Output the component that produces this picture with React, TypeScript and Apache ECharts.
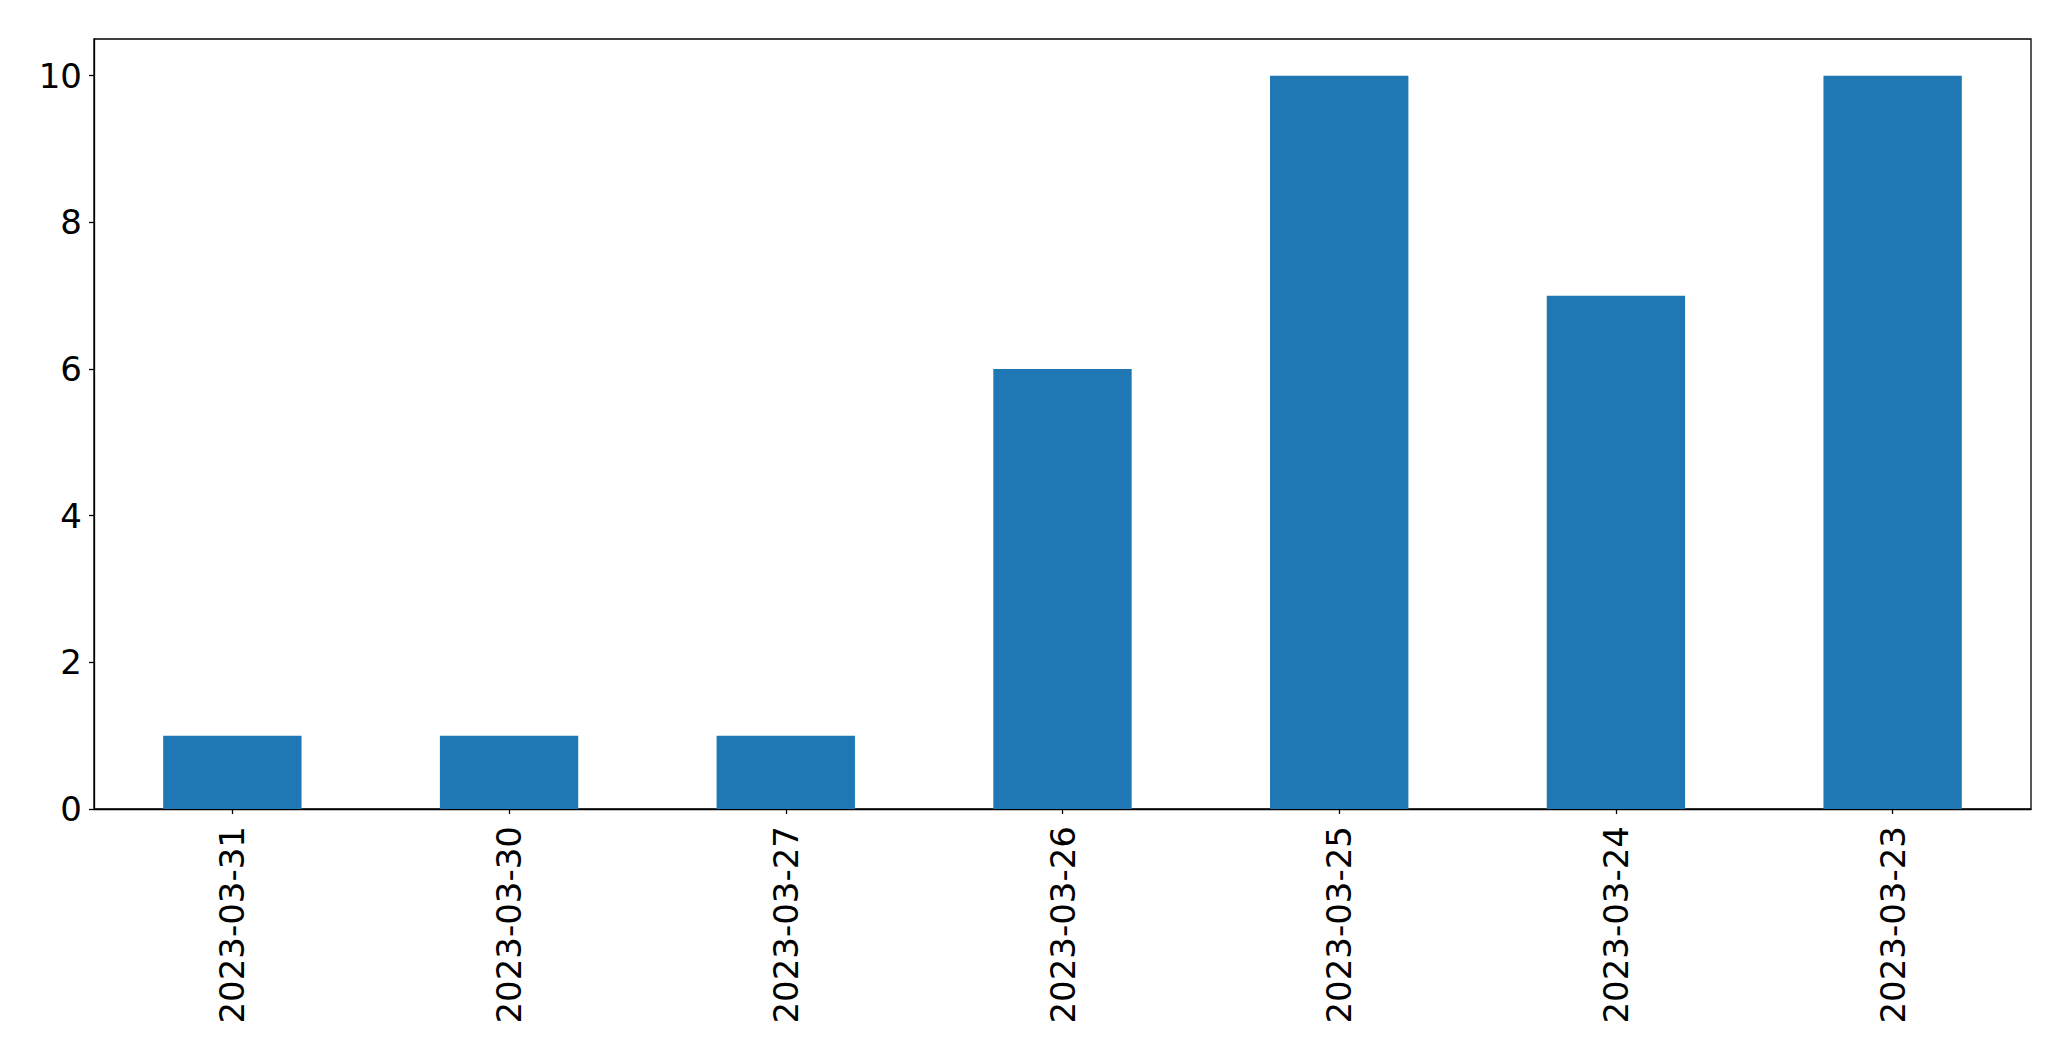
import React, { useEffect, useRef } from "react";
import * as echarts from "echarts";

const categories = ["2023-03-31", "2023-03-30", "2023-03-27", "2023-03-26", "2023-03-25", "2023-03-24", "2023-03-23"];
const values = [1, 1, 1, 6, 10, 7, 10];
const yTicks = [0, 2, 4, 6, 8, 10];

export default function App() {
  const ref = useRef<HTMLDivElement>(null);
  useEffect(() => {
    if (!ref.current) return;
    const chart = echarts.init(ref.current, null, { renderer: "svg" });
    const font = "DejaVu Sans";
    chart.setOption({
      animation: false,
      backgroundColor: "#ffffff",
      grid: {
        left: 94,
        top: 39,
        width: 1937,
        height: 770,
        show: true,
        borderColor: "#000",
        borderWidth: 1.3,
        backgroundColor: "transparent",
      },
      xAxis: {
        type: "category",
        data: categories,
        boundaryGap: true,
        axisLine: { show: true, lineStyle: { color: "#000", width: 1.3 } },
        axisTick: { show: true, alignWithLabel: true, length: 5, lineStyle: { color: "#000", width: 1.3 } },
        axisLabel: { rotate: 90, margin: 17, color: "#000", fontSize: 34, fontFamily: font, interval: 0 },
        splitLine: { show: false },
      },
      yAxis: {
        type: "value",
        min: 0,
        max: 10.5,
        interval: 2,
        axisLine: { show: true, lineStyle: { color: "#000", width: 1.3 } },
        axisTick: { show: true, length: 5, lineStyle: { color: "#000", width: 1.3 }, customValues: yTicks },
        axisLabel: { margin: 12, color: "#000", fontSize: 34, fontFamily: font, customValues: yTicks },
        splitLine: { show: false },
      },
      series: [
        {
          type: "bar",
          data: values,
          barWidth: "50%",
          itemStyle: { color: "#1f77b4" },
        },
      ],
    });
    return () => chart.dispose();
  }, []);
  return (
    <div
      ref={ref}
      style={{ position: "fixed", left: 0, top: 0, width: 2071, height: 1061, background: "#fff" }}
    />
  );
}
